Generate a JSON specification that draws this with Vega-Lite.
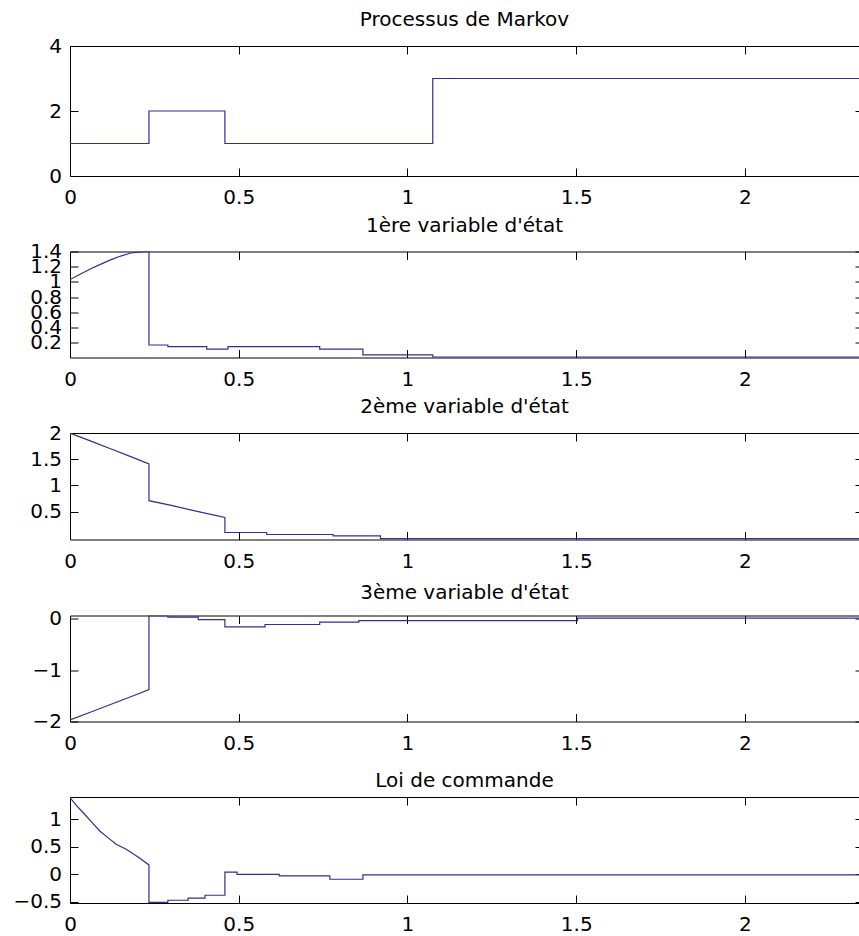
{
  "$schema": "https://vega.github.io/schema/vega-lite/v6.json",
  "background": "white",
  "padding": {"left": 12, "top": 10, "right": 0, "bottom": 0},
  "spacing": 75.5,
  "bounds": "flush",
  "config": {
    "view": {"stroke": null},
    "font": "DejaVu Sans",
    "axis": {"labelFont": "DejaVu Sans", "labelFontSize": 20, "labelColor": "#000000", "domainColor": "#000000", "tickColor": "#000000", "grid": false, "domainWidth": 1, "tickWidth": 1, "labelOverlap": false, "labelBound": false, "labelFlush": false, "minExtent": 0},
    "title": {"font": "DejaVu Sans", "fontSize": 20, "fontWeight": "normal", "color": "#000000", "anchor": "middle"}
  },
  "datasets": {
    "markov": [
      {"t": 0, "v": 1}, {"t": 0.234, "v": 1}, {"t": 0.234, "v": 2}, {"t": 0.459, "v": 2}, {"t": 0.459, "v": 1}, {"t": 1.075, "v": 1}, {"t": 1.075, "v": 3}, {"t": 2.338, "v": 3}
    ],
    "x1": [
      {"t": 0, "v": 1.03}, {"t": 0.03, "v": 1.1}, {"t": 0.06, "v": 1.17}, {"t": 0.09, "v": 1.23}, {"t": 0.12, "v": 1.29}, {"t": 0.15, "v": 1.34}, {"t": 0.18, "v": 1.38}, {"t": 0.21, "v": 1.395}, {"t": 0.234, "v": 1.4},
      {"t": 0.234, "v": 0.168}, {"t": 0.29, "v": 0.168}, {"t": 0.29, "v": 0.147}, {"t": 0.405, "v": 0.147}, {"t": 0.405, "v": 0.113}, {"t": 0.468, "v": 0.113}, {"t": 0.468, "v": 0.147},
      {"t": 0.74, "v": 0.147}, {"t": 0.74, "v": 0.113}, {"t": 0.868, "v": 0.113}, {"t": 0.868, "v": 0.037}, {"t": 1.075, "v": 0.037}, {"t": 1.075, "v": 0.008}, {"t": 2.338, "v": 0.008}
    ],
    "x2": [
      {"t": 0, "v": 2}, {"t": 0.06, "v": 1.85}, {"t": 0.12, "v": 1.7}, {"t": 0.18, "v": 1.55}, {"t": 0.234, "v": 1.41},
      {"t": 0.234, "v": 0.71}, {"t": 0.3, "v": 0.62}, {"t": 0.38, "v": 0.5}, {"t": 0.459, "v": 0.39},
      {"t": 0.459, "v": 0.103}, {"t": 0.583, "v": 0.103}, {"t": 0.583, "v": 0.065}, {"t": 0.78, "v": 0.065}, {"t": 0.78, "v": 0.04}, {"t": 0.92, "v": 0.04}, {"t": 0.92, "v": -0.015}, {"t": 2.338, "v": -0.015}
    ],
    "x3": [
      {"t": 0, "v": -1.97}, {"t": 0.06, "v": -1.82}, {"t": 0.12, "v": -1.67}, {"t": 0.18, "v": -1.52}, {"t": 0.234, "v": -1.38},
      {"t": 0.234, "v": 0.055}, {"t": 0.29, "v": 0.055}, {"t": 0.29, "v": 0.03}, {"t": 0.38, "v": 0.03}, {"t": 0.38, "v": -0.02}, {"t": 0.459, "v": -0.02}, {"t": 0.459, "v": -0.16},
      {"t": 0.578, "v": -0.16}, {"t": 0.578, "v": -0.115}, {"t": 0.74, "v": -0.115}, {"t": 0.74, "v": -0.07}, {"t": 0.856, "v": -0.07}, {"t": 0.856, "v": -0.04}, {"t": 1.504, "v": -0.04}, {"t": 1.504, "v": 0.01}, {"t": 2.338, "v": 0.01}
    ],
    "u": [
      {"t": 0, "v": 1.39}, {"t": 0.02, "v": 1.24}, {"t": 0.04, "v": 1.11}, {"t": 0.065, "v": 0.94}, {"t": 0.089, "v": 0.78}, {"t": 0.115, "v": 0.65}, {"t": 0.138, "v": 0.54}, {"t": 0.168, "v": 0.45}, {"t": 0.207, "v": 0.29}, {"t": 0.234, "v": 0.17},
      {"t": 0.234, "v": -0.51}, {"t": 0.29, "v": -0.51}, {"t": 0.29, "v": -0.47}, {"t": 0.35, "v": -0.47}, {"t": 0.35, "v": -0.43}, {"t": 0.4, "v": -0.43}, {"t": 0.4, "v": -0.38}, {"t": 0.459, "v": -0.38},
      {"t": 0.459, "v": 0.04}, {"t": 0.495, "v": 0.04}, {"t": 0.495, "v": 0.0}, {"t": 0.62, "v": 0.0}, {"t": 0.62, "v": -0.03}, {"t": 0.77, "v": -0.03}, {"t": 0.77, "v": -0.09}, {"t": 0.868, "v": -0.09}, {"t": 0.868, "v": -0.01}, {"t": 2.338, "v": -0.01}
    ]
  },
  "vconcat": [
    {
      "width": 789, "height": 130,
      "title": {"text": "Processus de Markov", "offset": -10, "baseline": "alphabetic"},
      "data": {"name": "markov"},
      "layer": [
        {"mark": {"type": "line", "color": "#2f2f8f", "strokeWidth": 1.2, "clip": true},
         "encoding": {
           "x": {"field": "t", "type": "quantitative", "scale": {"domain": [0, 2.338], "nice": false, "zero": false}, "axis": {"orient": "bottom", "title": null, "values": [0, 0.5, 1, 1.5, 2], "format": "~g", "tickSize": -8, "labelPadding": 19.5}},
           "y": {"field": "v", "type": "quantitative", "scale": {"domain": [0, 4], "nice": false, "zero": false}, "axis": {"orient": "left", "title": null, "values": [0, 2, 4], "format": "~g", "tickSize": -8, "labelPadding": 16.5}},
           "order": {"value": null}}},
        {"mark": {"type": "line", "opacity": 0},
         "encoding": {
           "x": {"field": "t", "type": "quantitative", "axis": {"orient": "top", "title": null, "values": [0, 0.5, 1, 1.5, 2], "labels": false, "tickSize": -8}},
           "y": {"field": "v", "type": "quantitative", "axis": {"orient": "right", "title": null, "values": [0, 2, 4], "labels": false, "domain": false, "tickSize": -4}},
           "order": {"value": null}}}
      ],
      "resolve": {"axis": {"x": "independent", "y": "independent"}}
    },
    {
      "width": 789, "height": 106,
      "title": {"text": "1ère variable d'état", "offset": -10, "baseline": "alphabetic"},
      "data": {"name": "x1"},
      "layer": [
        {"mark": {"type": "line", "color": "#2f2f8f", "strokeWidth": 1.2, "clip": true},
         "encoding": {
           "x": {"field": "t", "type": "quantitative", "scale": {"domain": [0, 2.338], "nice": false, "zero": false}, "axis": {"orient": "bottom", "title": null, "values": [0, 0.5, 1, 1.5, 2], "format": "~g", "tickSize": -8, "labelPadding": 19.5}},
           "y": {"field": "v", "type": "quantitative", "scale": {"domain": [0.003, 1.4], "nice": false, "zero": false}, "axis": {"orient": "left", "title": null, "values": [0.2, 0.4, 0.6, 0.8, 1, 1.2, 1.4], "format": "~g", "tickSize": -8, "labelPadding": 16.5}},
           "order": {"value": null}}},
        {"mark": {"type": "line", "opacity": 0},
         "encoding": {
           "x": {"field": "t", "type": "quantitative", "axis": {"orient": "top", "title": null, "values": [0, 0.5, 1, 1.5, 2], "labels": false, "tickSize": -8}},
           "y": {"field": "v", "type": "quantitative", "axis": {"orient": "right", "title": null, "values": [0.2, 0.4, 0.6, 0.8, 1, 1.2, 1.4], "labels": false, "domain": false, "tickSize": -4}},
           "order": {"value": null}}}
      ],
      "resolve": {"axis": {"x": "independent", "y": "independent"}}
    },
    {
      "width": 789, "height": 106.5,
      "title": {"text": "2ème variable d'état", "offset": -10, "baseline": "alphabetic"},
      "data": {"name": "x2"},
      "layer": [
        {"mark": {"type": "line", "color": "#2f2f8f", "strokeWidth": 1.2, "clip": true},
         "encoding": {
           "x": {"field": "t", "type": "quantitative", "scale": {"domain": [0, 2.338], "nice": false, "zero": false}, "axis": {"orient": "bottom", "title": null, "values": [0, 0.5, 1, 1.5, 2], "format": "~g", "tickSize": -8, "labelPadding": 19.5}},
           "y": {"field": "v", "type": "quantitative", "scale": {"domain": [-0.03, 2], "nice": false, "zero": false}, "axis": {"orient": "left", "title": null, "values": [0.5, 1, 1.5, 2], "format": "~g", "tickSize": -8, "labelPadding": 16.5}},
           "order": {"value": null}}},
        {"mark": {"type": "line", "opacity": 0},
         "encoding": {
           "x": {"field": "t", "type": "quantitative", "axis": {"orient": "top", "title": null, "values": [0, 0.5, 1, 1.5, 2], "labels": false, "tickSize": -8}},
           "y": {"field": "v", "type": "quantitative", "axis": {"orient": "right", "title": null, "values": [0.5, 1, 1.5, 2], "labels": false, "domain": false, "tickSize": -4}},
           "order": {"value": null}}}
      ],
      "resolve": {"axis": {"x": "independent", "y": "independent"}}
    },
    {
      "width": 789, "height": 106,
      "title": {"text": "3ème variable d'état", "offset": -10, "baseline": "alphabetic"},
      "data": {"name": "x3"},
      "layer": [
        {"mark": {"type": "line", "color": "#2f2f8f", "strokeWidth": 1.2, "clip": true},
         "encoding": {
           "x": {"field": "t", "type": "quantitative", "scale": {"domain": [0, 2.338], "nice": false, "zero": false}, "axis": {"orient": "bottom", "title": null, "values": [0, 0.5, 1, 1.5, 2], "format": "~g", "tickSize": -8, "labelPadding": 19.5}},
           "y": {"field": "v", "type": "quantitative", "scale": {"domain": [-2, 0.06], "nice": false, "zero": false}, "axis": {"orient": "left", "title": null, "values": [-2, -1, 0], "format": "~g", "tickSize": -8, "labelPadding": 16.5}},
           "order": {"value": null}}},
        {"mark": {"type": "line", "opacity": 0},
         "encoding": {
           "x": {"field": "t", "type": "quantitative", "axis": {"orient": "top", "title": null, "values": [0, 0.5, 1, 1.5, 2], "labels": false, "tickSize": -8}},
           "y": {"field": "v", "type": "quantitative", "axis": {"orient": "right", "title": null, "values": [-2, -1, 0], "labels": false, "domain": false, "tickSize": -4}},
           "order": {"value": null}}}
      ],
      "resolve": {"axis": {"x": "independent", "y": "independent"}}
    },
    {
      "width": 789, "height": 106,
      "title": {"text": "Loi de commande", "offset": -10, "baseline": "alphabetic"},
      "data": {"name": "u"},
      "layer": [
        {"mark": {"type": "line", "color": "#2f2f8f", "strokeWidth": 1.2, "clip": true},
         "encoding": {
           "x": {"field": "t", "type": "quantitative", "scale": {"domain": [0, 2.338], "nice": false, "zero": false}, "axis": {"orient": "bottom", "title": null, "values": [0, 0.5, 1, 1.5, 2], "format": "~g", "tickSize": -8, "labelPadding": 19.5}},
           "y": {"field": "v", "type": "quantitative", "scale": {"domain": [-0.52, 1.4], "nice": false, "zero": false}, "axis": {"orient": "left", "title": null, "values": [-0.5, 0, 0.5, 1], "format": "~g", "tickSize": -8, "labelPadding": 16.5}},
           "order": {"value": null}}},
        {"mark": {"type": "line", "opacity": 0},
         "encoding": {
           "x": {"field": "t", "type": "quantitative", "axis": {"orient": "top", "title": null, "values": [0, 0.5, 1, 1.5, 2], "labels": false, "tickSize": -8}},
           "y": {"field": "v", "type": "quantitative", "axis": {"orient": "right", "title": null, "values": [-0.5, 0, 0.5, 1], "labels": false, "domain": false, "tickSize": -4}},
           "order": {"value": null}}}
      ],
      "resolve": {"axis": {"x": "independent", "y": "independent"}}
    }
  ]
}
